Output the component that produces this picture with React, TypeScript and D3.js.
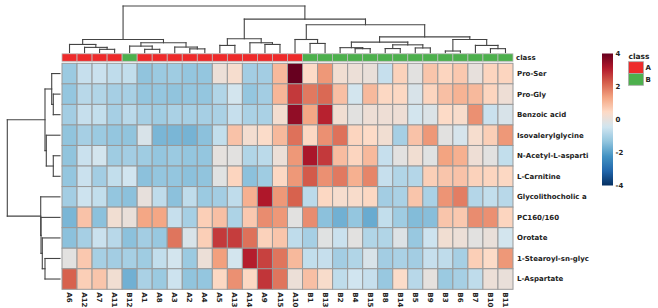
import React from "react";
import * as d3 from "d3";

const rowLabels = [
  "Pro-Ser", "Pro-Gly", "Benzoic acid", "Isovalerylglycine", "N-Acetyl-L-asparti",
  "L-Carnitine", "Glycolithocholic a", "PC160/160", "Orotate", "1-Stearoyl-sn-glyc", "L-Aspartate",
];
const colLabels = [
  "A6", "A12", "A7", "A11", "B12", "A1", "A8", "A3", "A2", "A4", "A5", "A13", "A14", "A9", "A15",
  "A10", "B1", "B13", "B2", "B4", "B15", "B8", "B14", "B5", "B9", "B3", "B6", "B7", "B10", "B11",
];
const colClasses = [
  "A", "A", "A", "A", "B", "A", "A", "A", "A", "A", "A", "A", "A", "A", "A",
  "A", "B", "B", "B", "B", "B", "B", "B", "B", "B", "B", "B", "B", "B", "B",
];
const values = [
  [-1.2, -0.6, -0.55, -0.7, -0.65, -1.35, -1.2, -1.15, -1.3, -1.3, 0.1, 0.3, -1.1, -1.1, 1.0, 4.0, 0.45, 1.5, 0.2, 0.1, 0.05, -0.6, 0.6, -0.1, 0.8, 0.55, 0.75, 0.0, 0.55, 0.55],
  [-1.3, -0.8, -0.9, -1.05, -1.05, -1.3, -1.3, -1.35, -1.3, -1.3, -0.9, -0.4, -1.3, -1.1, 1.05, 2.7, 1.9, 2.1, 0.9, -0.4, 1.0, 0.5, 0.5, -0.3, 0.55, 0.9, 1.1, 1.0, 0.55, 0.15],
  [-1.1, -0.6, -0.65, -1.05, -0.8, -1.05, -1.15, -1.0, -1.05, -1.05, -1.0, -0.6, -1.0, -1.0, 0.25, 3.5, 1.3, 3.0, 0.2, -0.1, 0.15, 0.15, 0.15, -0.4, -0.25, 0.45, 0.35, 1.6, -0.55, -0.3],
  [-1.35, -1.05, -1.2, -1.3, -1.35, -0.3, -1.6, -1.6, -1.65, -1.4, -0.65, 0.85, 0.25, 0.4, 1.0, 2.0, 0.5, 1.6, 2.0, 0.55, 0.45, 0.2, -1.05, 0.85, 1.5, -0.1, -0.35, 0.3, 0.65, 1.5],
  [-1.35, -0.55, -0.4, -1.15, -1.1, -1.15, -1.3, -1.2, -1.3, -1.3, -0.05, -0.1, -0.9, -0.75, 0.1, 1.5, 3.2, 2.7, 0.95, 0.55, 1.0, -0.6, -0.1, 0.2, -0.15, 1.35, 1.15, 0.15, -0.1, -0.65],
  [-1.3, -0.55, -1.1, -0.65, -0.45, -1.4, -1.3, -1.3, -1.4, -1.35, -0.15, 0.55, -1.4, -1.15, 0.5, 1.5, 2.3, 1.6, 1.9, 1.15, 1.75, -0.6, -0.9, -0.85, 0.65, 0.8, 0.85, 0.6, 0.55, 0.5],
  [-1.1, -0.5, -0.65, -1.3, -1.4, 0.0, -0.7, -1.4, -0.7, -1.2, -1.1, -0.7, 1.15, 3.15, 1.5, 2.2, -0.75, 0.5, 0.3, 0.35, 0.5, -1.1, -1.0, 0.8, -1.0, 1.55, 1.85, -0.85, -0.65, -0.8],
  [-1.6, 0.85, -1.4, 0.2, 0.05, 1.3, 1.3, -0.6, -1.05, 0.65, 0.9, -0.95, 0.75, 1.65, 1.5, -0.1, 1.65, -1.4, -1.7, -1.3, -1.8, -0.65, -1.15, -1.5, -1.45, 0.8, 0.75, 1.65, 1.6, 0.55],
  [-1.4, -1.05, -0.55, -0.8, -1.4, -1.1, -1.25, 1.95, -0.3, 0.65, 2.7, 2.65, 2.0, 0.6, 0.8, -0.7, -1.05, -0.15, -0.55, -0.1, -0.9, -0.9, -0.2, -1.25, -0.5, 0.2, 0.1, -0.1, 0.05, -0.4],
  [-0.1, 0.75, -1.05, -1.1, -1.05, -1.15, -0.65, -0.4, -1.2, 0.1, 1.4, -0.4, 3.05, 2.6, 1.95, 1.0, -0.65, -0.6, -1.1, -0.9, -0.3, -1.1, -1.0, -1.1, -0.6, -0.7, -1.05, 0.65, 0.45, 1.5],
  [2.2, 0.65, 0.8, 0.2, -1.7, -1.0, -1.2, -0.5, -1.35, -1.3, 0.5, 1.6, 0.5, 2.75, 1.95, 0.1, 0.9, 0.35, -0.7, -0.45, -0.6, -1.25, 0.4, -0.8, -0.05, -1.2, -1.05, -0.7, 0.1, 0.05],
];
const legendTicks = [4, 2, 0, -2, -4];
const classNames = ["A", "B"];
const classColors = ["#EE2B2B", "#4DB04D"];
const paletteStops = ["#053061", "#2166AC", "#4393C3", "#92C5DE", "#D1E5F0", "#FDDBC7", "#F4A582", "#D6604D", "#B2182B", "#67001F"];

type TreeNode = number | { h: number; c: [TreeNode, TreeNode] };
const nd = (h: number, a: TreeNode, b: TreeNode): TreeNode => ({ h, c: [a, b] });

// column dendrogram (leaf = column index, h = merge height)
const colTree: TreeNode = nd(15,
  nd(4.22,
    nd(2.63, 0, nd(1.68, 1, nd(1.05, 2, 3))),
    nd(3.17, nd(2.09, 4, nd(1.05, 5, 6)), nd(1.78, 7, nd(1.2, 8, 9)))
  ),
  nd(10.78,
    nd(4.44, nd(2.31, 10, 11), nd(3.17, 12, nd(2.63, 13, 14))),
    nd(8.97,
      nd(4.22, 15, nd(2.95, 16, 17)),
      nd(5.07,
        nd(3.36, nd(1.59, 18, nd(1.27, 19, 20)), nd(2.5, nd(1.3, 21, 22), nd(1.5, 23, 24))),
        nd(4.22, nd(0.51, 25, 26), nd(2.31, 27, nd(1.27, 28, 29)))
      )
    )
  )
);

// row dendrogram
const rowTree: TreeNode = nd(15,
  nd(4.27, nd(2.36, 0, nd(1.91, 1, 2)), nd(3.9, 3, nd(1.91, 4, 5))),
  nd(5.49, 6, nd(5.4, 7, nd(5.04, 8, nd(4.27, 9, 10))))
);

type Seg = { p1: number; h1: number; p2: number; h2: number };
function dendSegs(tree: TreeNode, leafPos: (i: number) => number): Seg[] {
  const segs: Seg[] = [];
  const walk = (n: TreeNode): { p: number; h: number } => {
    if (typeof n === "number") return { p: leafPos(n), h: 0 };
    const a = walk(n.c[0]);
    const b = walk(n.c[1]);
    segs.push({ p1: a.p, h1: a.h, p2: a.p, h2: n.h });
    segs.push({ p1: b.p, h1: b.h, p2: b.p, h2: n.h });
    segs.push({ p1: a.p, h1: n.h, p2: b.p, h2: n.h });
    return { p: (a.p + b.p) / 2, h: n.h };
  };
  walk(tree);
  return segs;
}

const FONT = "'DejaVu Sans', Verdana, sans-serif";

export default function App() {
  const W = 658, H = 308;
  const hx0 = 62, hx1 = 513, hy0 = 63.3, hy1 = 289.3;
  const xs = d3.scaleBand<number>().domain(d3.range(colLabels.length)).range([hx0, hx1]);
  const ys = d3.scaleBand<number>().domain(d3.range(rowLabels.length)).range([hy0, hy1]);
  const color = d3.scaleLinear<string>()
    .domain(paletteStops.map((_, i) => -4 + (i * 8) / (paletteStops.length - 1)))
    .range(paletteStops)
    .interpolate(d3.interpolateRgb)
    .clamp(true);
  const classColor = d3.scaleOrdinal<string, string>().domain(classNames).range(classColors);

  const colH = d3.scaleLinear().domain([0, 15]).range([52.6, 6]);
  const rowH = d3.scaleLinear().domain([0, 15]).range([60, 7.3]);
  const colSegs = dendSegs(colTree, (i) => (xs(i) as number) + xs.bandwidth() / 2);
  const rowSegs = dendSegs(rowTree, (i) => (ys(i) as number) + ys.bandwidth() / 2);

  const legY = d3.scaleLinear().domain([-4, 4]).range([185.5, 53.5]);
  const gradStops = d3.range(0, 1.0001, 0.02);

  const cbX = 17, cbY = 53.8, cbH = 7.5;

  return (
    <div style={{ position: "fixed", left: 0, top: 0 }}>
      <svg width={W} height={H} style={{ display: "block", background: "#fff" }} fontFamily={FONT}>
        <defs>
          <linearGradient id="cbar" x1="0" y1="1" x2="0" y2="0">
            {gradStops.map((t) => (
              <stop key={t} offset={t} stopColor={color(-4 + 8 * t)} />
            ))}
          </linearGradient>
        </defs>

        {/* column dendrogram */}
        <g stroke="#444" strokeWidth={1.1} fill="none" strokeLinecap="square">
          {colSegs.map((s, i) => (
            <line key={i} x1={s.p1} x2={s.p2} y1={colH(s.h1)} y2={colH(s.h2)} />
          ))}
        </g>
        {/* row dendrogram */}
        <g stroke="#444" strokeWidth={1.1} fill="none" strokeLinecap="square">
          {rowSegs.map((s, i) => (
            <line key={i} y1={s.p1} y2={s.p2} x1={rowH(s.h1)} x2={rowH(s.h2)} />
          ))}
        </g>

        {/* class annotation bar */}
        <g stroke="#bbb" strokeWidth={0.8}>
          {colClasses.map((c, j) => (
            <rect key={j} x={xs(j)} y={cbY} width={xs.bandwidth()} height={cbH} fill={classColor(c)} />
          ))}
        </g>
        <text x={hx1 + 3} y={cbY + cbH / 2} dy="0.35em" fontSize={7} fontWeight="bold" fill="#222">class</text>

        {/* heatmap cells */}
        <g stroke="#999" strokeWidth={1}>
          {values.map((row, i) =>
            row.map((v, j) => (
              <rect key={`${i}-${j}`} x={xs(j)} y={ys(i)} width={xs.bandwidth()} height={ys.bandwidth()} fill={color(v)} />
            ))
          )}
        </g>

        {/* row labels */}
        {rowLabels.map((l, i) => (
          <text key={l} x={hx1 + 4} y={(ys(i) as number) + ys.bandwidth() / 2} dy="0.35em" fontSize={7} fontWeight="bold" fill="#222">{l}</text>
        ))}
        {/* column labels */}
        {colLabels.map((l, j) => {
          const cx = (xs(j) as number) + xs.bandwidth() / 2;
          const y = hy1 + 3;
          return (
            <text key={l} transform={`translate(${cx},${y}) rotate(90)`} dy="0.35em" fontSize={7} fontWeight="bold" fill="#222">{l}</text>
          );
        })}

        {/* color legend */}
        <rect x={602} y={legY(4)} width={11} height={legY(-4) - legY(4)} fill="url(#cbar)" />
        {legendTicks.map((t) => (
          <text key={t} x={615.5} y={legY(t)} dy="0.35em" fontSize={7} fontWeight="bold" fill="#222">{t}</text>
        ))}

        {/* class legend */}
        <text x={628.5} y={58.5} fontSize={7.5} fontWeight="bold" fill="#222">class</text>
        {classNames.map((c, k) => (
          <g key={c}>
            <rect x={628.5} y={61.7 + k * 11.8} width={15} height={11.8} fill={classColor(c)} stroke="#aaa" strokeWidth={0.8} />
            <text x={645.5} y={61.7 + k * 11.8 + 5.9} dy="0.35em" fontSize={7} fontWeight="bold" fill="#222">{c}</text>
          </g>
        ))}
      </svg>
    </div>
  );
}
